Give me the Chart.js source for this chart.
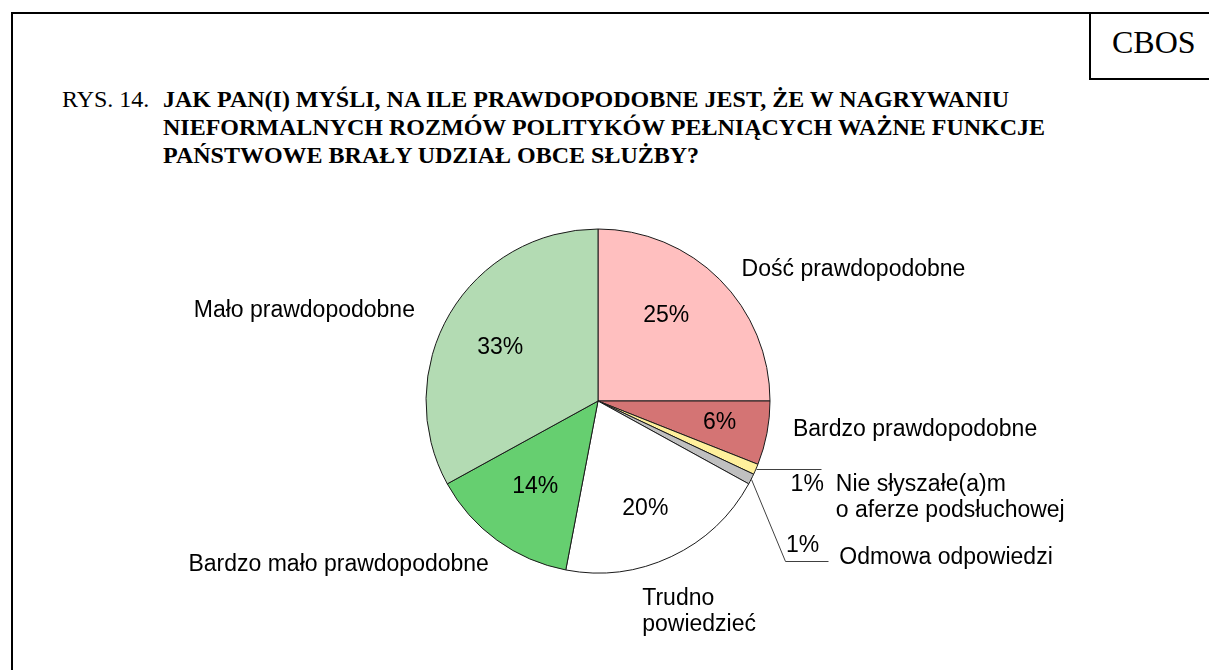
<!DOCTYPE html>
<html lang="pl">
<head>
  <meta charset="UTF-8">
  <title>CBOS - Rys. 14</title>
  <script src="https://cdn.jsdelivr.net/npm/chart.js"></script>
  <style>
    body {
      margin: 0;
      width: 1209px;
      height: 670px;
      overflow: hidden;
      position: relative;
      background: #fff;
      font-family: "Liberation Serif", "Times New Roman", serif;
      color: #000;
    }
    .frame {
      position: absolute;
      left: 11px;
      top: 12px;
      width: 1300px;
      height: 800px;
      border: 2px solid #000;
    }
    .cbos {
      position: absolute;
      left: 1089px;
      top: 12px;
      width: 200px;
      height: 64px;
      border: 2px solid #000;
    }
    .cbos-text {
      position: absolute;
      left: 1112px;
      top: 24px;
      font-size: 32px;
    }
    .fig-no {
      position: absolute;
      left: 62px;
      top: 85px;
      font-size: 24px;
      line-height: 28px;
    }
    .fig-title {
      position: absolute;
      left: 163px;
      top: 85px;
      font-size: 24px;
      line-height: 28px;
      font-weight: bold;
      white-space: nowrap;
    }
    #pie {
      position: absolute;
      left: 0;
      top: 0;
    }
  </style>
</head>
<body>
  <div class="frame"></div>
  <div class="cbos"></div>
  <div class="cbos-text">CBOS</div>
  <div class="fig-no">RYS. 14.</div>
  <div class="fig-title">JAK PAN(I) MYŚLI, NA ILE PRAWDOPODOBNE JEST, ŻE W NAGRYWANIU<br>NIEFORMALNYCH ROZMÓW POLITYKÓW PEŁNIĄCYCH WAŻNE FUNKCJE<br>PAŃSTWOWE BRAŁY UDZIAŁ OBCE SŁUŻBY?</div>
  <canvas id="pie" width="1209" height="670"></canvas>

  <script>
    // answers, clockwise from 12 o'clock
    const categories = [
      'Dość prawdopodobne',
      'Bardzo prawdopodobne',
      'Nie słyszałe(a)m\no aferze podsłuchowej',
      'Odmowa odpowiedzi',
      'Trudno\npowiedzieć',
      'Bardzo mało prawdopodobne',
      'Mało prawdopodobne'
    ];
    const percentages = [25, 6, 1, 1, 20, 14, 33];

    const sliceColors = ['#FFBFBF', '#D47474', '#FFF09C', '#C0C0C0', '#FFFFFF', '#66CF70', '#B3DBB3'];

    // label layout, offsets in px from the rim point at the middle of each slice
    const labelStyle = [
      { text: [22, -3], align: 'left', pct: 'in', nudge: [-12, -7] },
      { text: [26, 3], align: 'left', pct: 'in', nudge: [10, -1] },
      { text: [80, 22], align: 'left', pct: [68, 22], leader: [[0, 0], [65, 0]] },
      { text: [88, 85], align: 'left', pct: [68, 73], leader: [[0, 0], [34, 82], [77, 82]] },
      { text: [-29, 48], align: 'left', pct: 'in', nudge: [-1, 3] },
      { text: [-8, 31], align: 'right', pct: 'in', nudge: [4, -8] },
      { text: [-35, 4], align: 'right', pct: 'in', nudge: [0, 3] }
    ];

    const labelFont = '23px "Liberation Sans", Arial, sans-serif';

    const pieLabels = {
      id: 'pieLabels',
      afterDatasetsDraw(chart) {
        const ctx = chart.ctx;
        const arcs = chart.getDatasetMeta(0).data;
        ctx.save();
        ctx.font = labelFont;
        ctx.fillStyle = '#000';
        ctx.textBaseline = 'alphabetic';
        arcs.forEach((arc, i) => {
          const p = arc.getProps(['x', 'y', 'startAngle', 'endAngle', 'outerRadius'], true);
          const mid = (p.startAngle + p.endAngle) / 2;
          const rimX = p.x + Math.cos(mid) * p.outerRadius;
          const rimY = p.y + Math.sin(mid) * p.outerRadius;
          const st = labelStyle[i];
          const pctText = percentages[i] + '%';

          if (st.leader) {
            ctx.strokeStyle = '#404040';
            ctx.lineWidth = 1;
            ctx.beginPath();
            st.leader.forEach((pt, k) => {
              const lx = Math.round(rimX + pt[0]) + 0.5;
              const ly = Math.round(rimY + pt[1]) + 0.5;
              if (k === 0) ctx.moveTo(lx, ly); else ctx.lineTo(lx, ly);
            });
            ctx.stroke();
          }

          // percentage
          if (st.pct === 'in') {
            const r = p.outerRadius * 0.66;
            ctx.textAlign = 'center';
            ctx.fillText(pctText, p.x + Math.cos(mid) * r + st.nudge[0], p.y + Math.sin(mid) * r + st.nudge[1] + 8);
          } else {
            ctx.textAlign = 'right';
            ctx.fillText(pctText, rimX + st.pct[0], rimY + st.pct[1]);
          }

          // category name
          ctx.textAlign = st.align;
          categories[i].split('\n').forEach((line, k) => {
            ctx.fillText(line, rimX + st.text[0], rimY + st.text[1] + k * 26);
          });
        });
        ctx.restore();
      }
    };

    new Chart(document.getElementById('pie').getContext('2d'), {
      type: 'pie',
      data: {
        labels: categories,
        datasets: [{
          data: percentages,
          backgroundColor: sliceColors,
          borderColor: '#1a1a1a',
          borderWidth: 1,
          radius: 172
        }]
      },
      options: {
        responsive: false,
        animation: false,
        layout: {
          padding: { left: 426, top: 229, right: 439, bottom: 97 }
        },
        plugins: {
          legend: { display: false },
          tooltip: { enabled: false }
        }
      },
      plugins: [pieLabels]
    });
  </script>
</body>
</html>
